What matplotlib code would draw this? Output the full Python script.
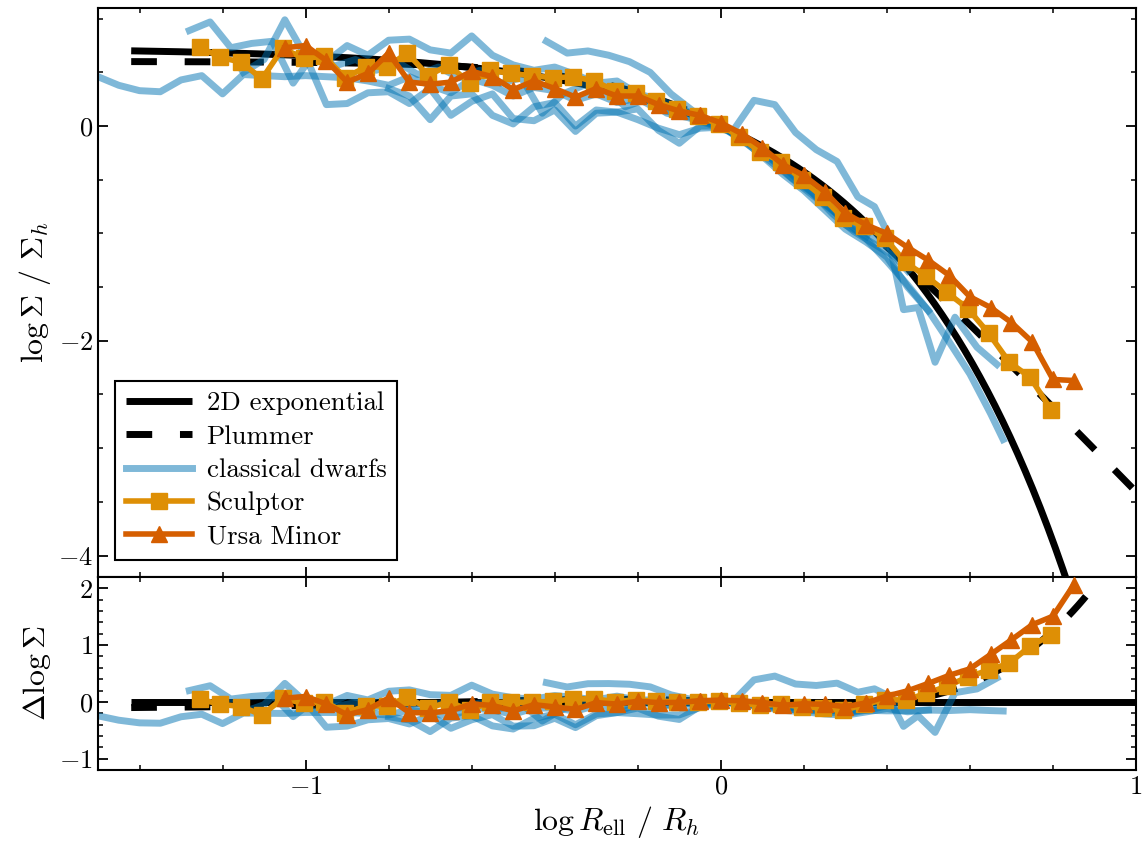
import numpy as np
import matplotlib
matplotlib.use("Agg")
import matplotlib.pyplot as plt
from matplotlib.ticker import MultipleLocator

plt.rcParams.update({
    "font.family": "serif",
    "font.serif": ["cmr10"],
    "mathtext.fontset": "cm",
    "axes.formatter.use_mathtext": True,
    "font.size": 19,
    "axes.linewidth": 1.5,
    "xtick.direction": "in",
    "ytick.direction": "in",
    "xtick.top": True,
    "ytick.right": True,
    "xtick.major.size": 7,
    "ytick.major.size": 7,
    "xtick.minor.size": 3.5,
    "ytick.minor.size": 3.5,
    "xtick.major.width": 1.3,
    "ytick.major.width": 1.3,
    "xtick.minor.width": 1.1,
    "ytick.minor.width": 1.1,
})

# ---------------- observed profiles: log(R/R_h) and log(Sigma/Sigma_h) ----------------
sculptor_logr = [-1.255, -1.205, -1.155, -1.105, -1.055, -1.005, -0.955, -0.905, -0.855,
                 -0.805, -0.755, -0.705, -0.655, -0.605, -0.555, -0.505, -0.455, -0.405,
                 -0.355, -0.305, -0.255, -0.205, -0.155, -0.105, -0.055, -0.005, 0.045,
                 0.095, 0.145, 0.195, 0.245, 0.295, 0.345, 0.395, 0.445, 0.495, 0.545,
                 0.595, 0.645, 0.695, 0.745, 0.795]
sculptor_logsig = [0.735, 0.64, 0.595, 0.44, 0.725, 0.63, 0.65, 0.45, 0.55, 0.55, 0.68,
                   0.47, 0.57, 0.40, 0.52, 0.49, 0.47, 0.45, 0.46, 0.42, 0.33, 0.31, 0.23,
                   0.16, 0.09, 0.02, -0.10, -0.24, -0.33, -0.50, -0.66, -0.86, -0.93,
                   -1.04, -1.27, -1.40, -1.55, -1.70, -1.93, -2.20, -2.34, -2.64]

umi_logr = [-1.05, -1.00, -0.95, -0.90, -0.85, -0.80, -0.75, -0.70, -0.65, -0.60, -0.55,
            -0.50, -0.45, -0.40, -0.35, -0.30, -0.25, -0.20, -0.15, -0.10, -0.05, 0.00,
            0.05, 0.10, 0.15, 0.20, 0.25, 0.30, 0.35, 0.40, 0.45, 0.50, 0.55, 0.60, 0.65,
            0.70, 0.75, 0.80, 0.85]
umi_logsig = [0.73, 0.75, 0.61, 0.41, 0.49, 0.68, 0.41, 0.39, 0.41, 0.51, 0.46, 0.34,
              0.42, 0.35, 0.27, 0.35, 0.28, 0.28, 0.20, 0.14, 0.10, 0.03, -0.07, -0.20,
              -0.36, -0.46, -0.61, -0.81, -0.92, -1.00, -1.13, -1.25, -1.39, -1.59,
              -1.69, -1.83, -2.01, -2.36, -2.37]

# classical dwarf spheroidals
dwarf_a_logr = [-1.50, -1.45, -1.40, -1.35, -1.30, -1.25, -1.20, -1.15, -1.10, -1.05,
                -1.00, -0.95, -0.90, -0.85, -0.80, -0.75, -0.70, -0.65, -0.60, -0.55,
                -0.50, -0.45, -0.40, -0.35, -0.30, -0.25, -0.20, -0.15, -0.10, -0.05,
                0.00, 0.05, 0.10, 0.15, 0.20, 0.25, 0.30, 0.35, 0.40, 0.45, 0.50, 0.55,
                0.60, 0.65, 0.68]
dwarf_a_logsig = [0.46, 0.38, 0.33, 0.32, 0.43, 0.47, 0.30, 0.48, 0.47, 0.46, 0.47, 0.46,
                  0.45, 0.42, 0.38, 0.46, 0.38, 0.31, 0.44, 0.38, 0.28, 0.36, 0.33, 0.24,
                  0.30, 0.22, 0.26, 0.15, 0.12, 0.05, 0.00, -0.13, -0.27, -0.42, -0.58,
                  -0.73, -0.88, -1.05, -1.26, -1.48, -1.72, -2.01, -2.31, -2.68, -2.92]

dwarf_b_logr = [-1.28, -1.23, -1.18, -1.13, -1.08, -1.03, -0.98, -0.93, -0.88, -0.83,
                -0.78, -0.73, -0.68, -0.63, -0.58, -0.53, -0.48, -0.43, -0.38, -0.33,
                -0.28, -0.23, -0.18, -0.13, -0.08, -0.03, 0.02, 0.07, 0.12, 0.17, 0.22,
                0.27, 0.32, 0.37, 0.42, 0.45]
dwarf_b_logsig = [0.89, 0.97, 0.73, 0.77, 0.79, 0.40, 0.68, 0.56, 0.62, 0.52, 0.60, 0.48,
                  0.55, 0.45, 0.52, 0.40, 0.45, 0.12, 0.30, 0.38, 0.35, 0.18, 0.25, 0.12,
                  0.08, 0.02, -0.05, -0.17, -0.30, -0.48, -0.62, -0.82, -0.98, -1.10,
                  -1.22, -1.35]

dwarf_c_logr = [-0.42, -0.37, -0.32, -0.27, -0.22, -0.17, -0.12, -0.07, -0.03, 0.03,
                0.08, 0.13, 0.18, 0.23, 0.28, 0.33, 0.37, 0.40, 0.44, 0.475, 0.516,
                0.564, 0.617, 0.665]
dwarf_c_logsig = [0.79, 0.68, 0.70, 0.66, 0.60, 0.50, 0.30, 0.15, 0.03, -0.04, 0.24,
                  0.20, -0.06, -0.22, -0.33, -0.66, -0.75, -0.98, -1.71, -1.69, -2.20,
                  -1.78, -2.06, -2.22]

dwarf_d_logr = [-1.15, -1.10, -1.05, -1.00, -0.95, -0.90, -0.85, -0.80, -0.75, -0.70,
                -0.65, -0.60, -0.55, -0.50, -0.45, -0.40, -0.35, -0.30, -0.25, -0.20,
                -0.15, -0.10, -0.05, 0.00, 0.05, 0.10, 0.15, 0.20, 0.25, 0.30, 0.35,
                0.40]
dwarf_d_logsig = [0.50, 0.62, 0.99, 0.65, 0.20, 0.21, 0.31, 0.32, 0.21, 0.35, 0.10, 0.23,
                  0.30, 0.07, 0.05, 0.15, -0.05, 0.12, 0.13, 0.06, -0.02, -0.08, -0.02,
                  -0.01, -0.10, -0.22, -0.38, -0.55, -0.72, -0.88, -1.00, -1.12]

dwarf_e_logr = [-0.95, -0.90, -0.85, -0.80, -0.75, -0.70, -0.65, -0.60, -0.55, -0.50,
                -0.45, -0.40, -0.35, -0.30, -0.25, -0.20, -0.15, -0.10, -0.05, 0.00,
                0.05, 0.10, 0.15, 0.20, 0.25, 0.30, 0.35]
dwarf_e_logsig = [0.60, 0.75, 0.66, 0.80, 0.81, 0.71, 0.68, 0.84, 0.66, 0.57, 0.52, 0.55,
                  0.48, 0.40, 0.42, 0.30, 0.25, 0.17, 0.08, 0.01, -0.11, -0.25, -0.38,
                  -0.52, -0.68, -0.92, -1.03]

dwarf_f_logr = [-0.80, -0.75, -0.70, -0.65, -0.60, -0.55, -0.50, -0.45, -0.40, -0.35,
                -0.30, -0.25, -0.20, -0.15, -0.10, -0.05, 0.00, 0.05, 0.10, 0.15, 0.20,
                0.25, 0.30, 0.35, 0.40, 0.45, 0.50]
dwarf_f_logsig = [0.35, 0.28, 0.06, 0.28, 0.30, 0.10, 0.02, 0.18, 0.22, 0.00, 0.15, 0.13,
                  0.16, -0.04, -0.16, 0.00, 0.00, -0.12, -0.28, -0.45, -0.60, -0.78,
                  -0.96, -1.08, -1.22, -1.50, -1.72]

dwarfs = [
    (dwarf_a_logr, dwarf_a_logsig),
    (dwarf_b_logr, dwarf_b_logsig),
    (dwarf_c_logr, dwarf_c_logsig),
    (dwarf_d_logr, dwarf_d_logsig),
    (dwarf_e_logr, dwarf_e_logsig),
    (dwarf_f_logr, dwarf_f_logsig),
]

# ---------------- model profiles, normalised at the half-light radius ----------------
EXP_B = 1.678  # R_h / R_s for a 2D exponential


def log_exponential(logr):
    r = 10.0 ** np.asarray(logr)
    return -EXP_B * (r - 1.0) / np.log(10.0)


def log_plummer(logr):
    r = 10.0 ** np.asarray(logr)
    return -2.0 * np.log10((1.0 + r ** 2) / 2.0)


model_logr = np.linspace(-1.42, 1.0, 400)

COL_DWARF = "#0173B2"
COL_SCL = "#DE8F05"
COL_UMI = "#D55E00"

fig = plt.figure(figsize=(11.46, 8.51), dpi=100)
gs = fig.add_gridspec(2, 1, height_ratios=[569, 193], hspace=0,
                      left=0.0855, right=0.9913, top=0.9906, bottom=0.0952)
ax = fig.add_subplot(gs[0])
axr = fig.add_subplot(gs[1], sharex=ax)

dash = (3.7, 4.0)

# upper panel: profiles
ax.plot(model_logr, log_exponential(model_logr), color="k", lw=5, zorder=1,
        label="2D exponential", solid_capstyle="butt")
ax.plot(model_logr, log_plummer(model_logr), color="k", lw=5, ls=(0, dash), zorder=1,
        label="Plummer", dash_capstyle="butt")
for i, (lx, ly) in enumerate(dwarfs):
    ax.plot(lx, ly, color=COL_DWARF, alpha=0.5, lw=5, zorder=2,
            label="classical dwarfs" if i == 0 else None)
ax.plot(sculptor_logr, sculptor_logsig, color=COL_SCL, lw=4, marker="s", ms=11,
        zorder=3, label="Sculptor")
ax.plot(umi_logr, umi_logsig, color=COL_UMI, lw=4, marker="^", ms=12,
        zorder=4, label="Ursa Minor")

# lower panel: residuals with respect to the exponential profile
axr.plot(model_logr, np.zeros_like(model_logr), color="k", lw=5, zorder=1,
         solid_capstyle="butt")
axr.plot(model_logr, log_plummer(model_logr) - log_exponential(model_logr), color="k",
         lw=5, ls=(0, dash), zorder=1, dash_capstyle="butt")
for lx, ly in dwarfs:
    axr.plot(lx, np.asarray(ly) - log_exponential(lx), color=COL_DWARF, alpha=0.5, lw=5,
             zorder=2)
axr.plot(sculptor_logr, np.asarray(sculptor_logsig) - log_exponential(sculptor_logr),
         color=COL_SCL, lw=4, marker="s", ms=11, zorder=3)
axr.plot(umi_logr, np.asarray(umi_logsig) - log_exponential(umi_logr),
         color=COL_UMI, lw=4, marker="^", ms=12, zorder=4)

ax.set_xlim(-1.5, 1.0)
ax.set_ylim(-4.2, 1.1)
axr.set_ylim(-1.2, 2.2)

ax.xaxis.set_major_locator(MultipleLocator(1))
ax.xaxis.set_minor_locator(MultipleLocator(0.2))
ax.yaxis.set_major_locator(MultipleLocator(2))
ax.yaxis.set_minor_locator(MultipleLocator(0.5))
axr.yaxis.set_major_locator(MultipleLocator(1))
axr.yaxis.set_minor_locator(MultipleLocator(0.2))

for a in (ax, axr):
    a.tick_params(which="both", direction="in", top=True, right=True)
ax.tick_params(labelbottom=False)

ax.set_ylabel(r"$\log\Sigma\ /\ \Sigma_h$", fontsize=23)
axr.set_ylabel(r"$\Delta\log\Sigma$", fontsize=23)
axr.set_xlabel(r"$\log R_{\rm ell}\ /\ R_h$", fontsize=23)
fig.align_ylabels([ax, axr])

leg = ax.legend(loc="lower left", handlelength=2.45, handletextpad=0.55,
                labelspacing=0.36, fancybox=False, framealpha=1, edgecolor="k",
                borderaxespad=0.65, fontsize=19.3)
leg.get_frame().set_linewidth(1.5)

fig.savefig("out.png", dpi=100)
